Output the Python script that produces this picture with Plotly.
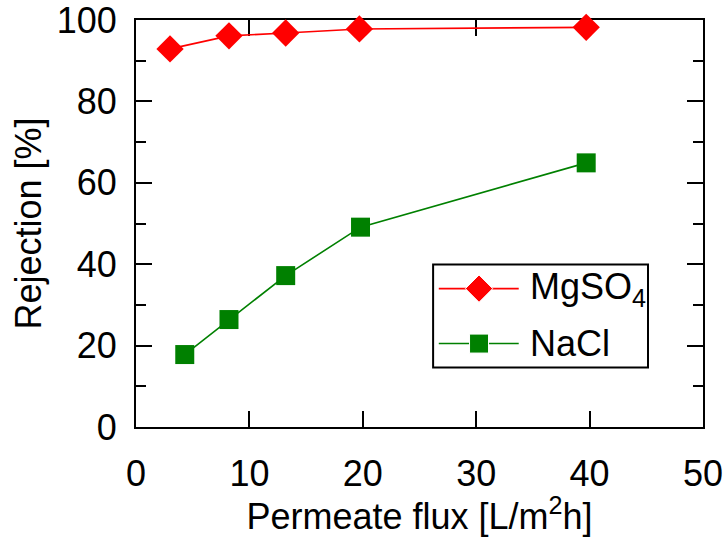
import plotly.graph_objects as go

# Permeate flux [L/m2h] and rejection [%] for the two salts
flux_mgso4 = [3.0, 8.2, 13.2, 19.7, 39.7]
rej_mgso4 = [92.9, 96.1, 96.8, 97.8, 98.2]
flux_nacl = [4.3, 8.2, 13.2, 19.8, 39.7]
rej_nacl = [17.8, 26.4, 37.2, 49.1, 64.9]

x_ticks = [0, 10, 20, 30, 40, 50]
y_ticks = [0, 20, 40, 60, 80, 100]

FONT = "Arial, Liberation Sans, sans-serif"
RED = "#ff0000"
GREEN = "#008000"

fig = go.Figure()

fig.add_trace(go.Scatter(
    x=flux_mgso4, y=rej_mgso4, mode="lines+markers", name="MgSO4",
    line=dict(color=RED, width=1.6),
    marker=dict(symbol="diamond", size=21, color=RED, opacity=1),
    cliponaxis=False, showlegend=False,
))
fig.add_trace(go.Scatter(
    x=flux_nacl, y=rej_nacl, mode="lines+markers", name="NaCl",
    line=dict(color=GREEN, width=1.6),
    marker=dict(symbol="square", size=19, color=GREEN, opacity=1),
    cliponaxis=False, showlegend=False,
))

# Legend drawn on an overlay axis spanning the plot area (0..1 both ways)
leg_x = [0.534, 0.605, 0.675]
leg_rows = [("MgSO<sub>4</sub>", RED, "diamond", 21, 0.340),
            ("NaCl", GREEN, "square", 19, 0.205)]
for label, col, sym, sz, yy in leg_rows:
    fig.add_trace(go.Scatter(
        x=leg_x, y=[yy] * 3, xaxis="x2", yaxis="y2", mode="lines+markers",
        line=dict(color=col, width=1.6),
        marker=dict(symbol=sym, size=[0, sz, 0], color=col, opacity=1),
        showlegend=False, hoverinfo="skip", cliponaxis=False,
    ))
    fig.add_annotation(
        x=0.692, y=yy, xref="x2", yref="y2", text=label, showarrow=False,
        xanchor="left", yanchor="middle",
        font=dict(family=FONT, size=36, color="black"),
    )
fig.add_shape(type="rect", xref="x2", yref="y2",
              x0=0.524, x1=0.903, y0=0.146, y1=0.399,
              line=dict(color="black", width=2))

axis_common = dict(
    showline=True, linewidth=2, linecolor="black", mirror="allticks",
    ticks="inside", ticklen=16, tickwidth=2, tickcolor="black",
    showgrid=False, zeroline=False, layer="below traces", automargin=False,
    ticklabeloverflow="allow",
    tickfont=dict(family=FONT, size=36, color="black"),
)

fig.update_layout(
    width=724, height=537,
    margin=dict(l=136, r=21, t=20, b=110),
    paper_bgcolor="white", plot_bgcolor="white",
    xaxis=dict(
        range=[0, 50], tickvals=x_ticks, ticklabelstandoff=14,
        title=dict(text="Permeate flux [L/m<sup>2</sup>h]", standoff=8,
                   font=dict(family=FONT, size=36, color="black")),
        **axis_common,
    ),
    yaxis=dict(
        range=[0, 100], tickvals=y_ticks, ticklabelstandoff=10,
        minor=dict(dtick=10, tick0=0, ticks="inside", ticklen=10,
                   tickwidth=2, tickcolor="black"),
        title=dict(text="Rejection [%]", standoff=4,
                   font=dict(family=FONT, size=36, color="black")),
        **axis_common,
    ),
    xaxis2=dict(range=[0, 1], overlaying="x", visible=False, fixedrange=True),
    yaxis2=dict(range=[0, 1], overlaying="y", visible=False, fixedrange=True),
)

fig.write_html("out.html")
